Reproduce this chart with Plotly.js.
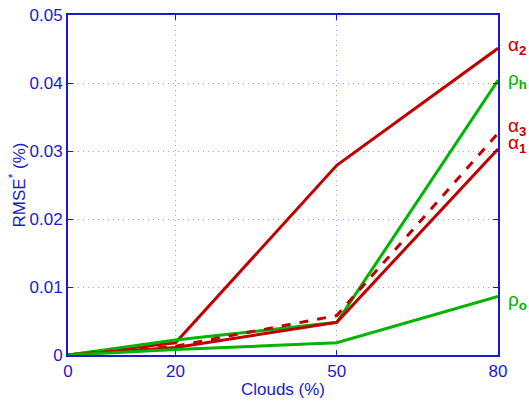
<!DOCTYPE html>
<html><head><meta charset="utf-8">
<script src="https://cdn.plot.ly/plotly-3.0.1.min.js"></script>
<style>body{margin:0;background:#fff}#c{width:529px;height:403px}</style>
</head><body><div id="c"></div>
<script>
const clouds = [0, 20, 50, 80];
const alpha2 = [0, 0.0018, 0.0279, 0.0451];
const rhoH = [0, 0.0022, 0.0048, 0.0404];
const alpha3 = [0, 0.0013, 0.0058, 0.0326];
const alpha1 = [0, 0.0011, 0.0048, 0.0303];
const rhoO = [0, 0.0008, 0.0018, 0.0086];
const labels = ['α<sub><b>2</b></sub>', 'ρ<sub><b>h</b></sub>', 'α<sub><b>3</b></sub>', 'α<sub><b>1</b></sub>', 'ρ<sub><b>o</b></sub>'];
const xTicks = [0, 20, 50, 80];
const yTicks = [0, 0.01, 0.02, 0.03, 0.04, 0.05];
const yTickText = ['0', '0.01', '0.02', '0.03', '0.04', '0.05'];

const RED = '#c00000', GREEN = '#00b400', BLUE = '#1a1acc';
const series = [
  {y: alpha2, c: RED, d: 'solid'},
  {y: rhoH, c: GREEN, d: 'solid'},
  {y: alpha3, c: RED, d: 'dash'},
  {y: alpha1, c: RED, d: 'solid'},
  {y: rhoO, c: GREEN, d: 'solid'}
];
const traces = series.map(s => ({x: clouds, y: s.y, mode: 'lines', line: {color: s.c, width: 3, dash: s.d}, hoverinfo: 'skip'}));
const labelY = [0.0455, 0.0405, 0.0335, 0.0310, 0.0080];
const labelC = [RED, GREEN, RED, RED, GREEN];
const annotations = labels.map((t, i) => ({x: 1, xref: 'paper', xanchor: 'left', xshift: 8, y: labelY[i], yref: 'y', yanchor: 'middle', text: t, showarrow: false, font: {family: 'Liberation Sans, Arial', size: 19, color: labelC[i]}}));

Plotly.newPlot('c', traces, {
  width: 529, height: 403,
  margin: {l: 68, r: 31, t: 15, b: 48},
  showlegend: false,
  paper_bgcolor: '#fff', plot_bgcolor: '#fff',
  font: {family: 'Liberation Sans, Arial', size: 16, color: BLUE},
  xaxis: {range: [0, 80], tickvals: xTicks, ticktext: xTicks.map(String), showline: true, mirror: 'ticks', linecolor: BLUE, linewidth: 2, ticks: 'inside', ticklen: 5, tickcolor: BLUE, showgrid: true, gridcolor: '#9d9de6', griddash: '1px,4px', gridwidth: 1, zeroline: false, title: {text: 'Clouds (%)', standoff: 3, font: {family: 'Liberation Sans, Arial', size: 17, color: BLUE}}, tickfont: {size: 17, color: BLUE}},
  yaxis: {range: [0, 0.05], tickvals: yTicks, ticktext: yTickText, showline: true, mirror: 'ticks', linecolor: BLUE, linewidth: 2, ticks: 'inside', ticklen: 5, tickcolor: BLUE, showgrid: true, gridcolor: '#9d9de6', griddash: '1px,4px', gridwidth: 1, zeroline: false, title: {text: 'RMSE<sup>*</sup> (%)', standoff: 0, font: {family: 'Liberation Sans, Arial', size: 17, color: BLUE}}, tickfont: {size: 17, color: BLUE}},
  annotations: annotations
}, {staticPlot: true});
</script></body></html>
